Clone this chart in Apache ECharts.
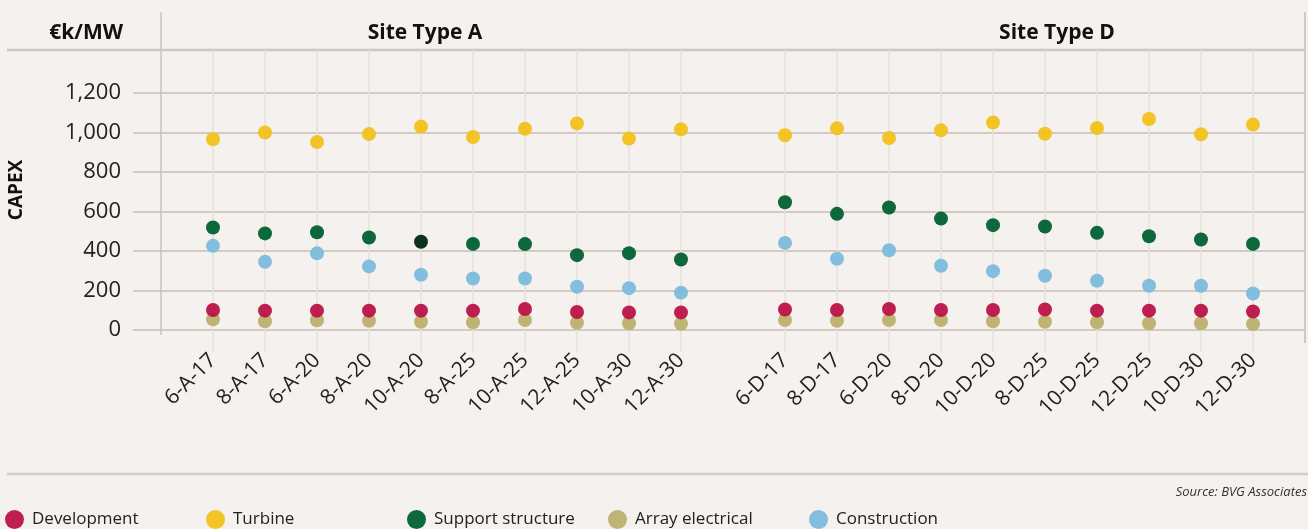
<!DOCTYPE html>
<html>
<head>
<meta charset="utf-8">
<script src="https://cdn.jsdelivr.net/npm/echarts@6/dist/echarts.min.js"></script>
<style>
  html, body { margin: 0; padding: 0; background: #f4f1ee; }
  #chart { width: 1308px; height: 529px; }
</style>
</head>
<body>
<div id="chart"></div>
<script>
// categories: site type A, an empty gap, site type D
const catsA = ['6-A-17', '8-A-17', '6-A-20', '8-A-20', '10-A-20', '8-A-25', '10-A-25', '12-A-25', '10-A-30', '12-A-30']
const catsD = ['6-D-17', '8-D-17', '6-D-20', '8-D-20', '10-D-20', '8-D-25', '10-D-25', '12-D-25', '10-D-30', '12-D-30']

const developmentA = [101, 98, 98, 98, 98, 98, 106, 91, 89, 89]
const developmentD = [104, 101, 106, 101, 101, 104, 98, 98, 98, 94]
const turbineA = [966, 1000, 952, 992, 1030, 977, 1019, 1046, 969, 1016]
const turbineD = [986, 1021, 972, 1011, 1051, 994, 1023, 1068, 991, 1040]
const supportA = [519, 489, 495, 468, 447, 436, 435, 379, 389, 357]
const supportD = [647, 588, 620, 564, 531, 524, 492, 475, 458, 436]
const arrayA = [54, 44, 49, 47, 42, 39, 51, 37, 34, 32]
const arrayD = [51, 47, 51, 51, 44, 42, 39, 34, 34, 30]
const constructionA = [426, 345, 388, 322, 280, 261, 261, 219, 212, 189]
const constructionD = [441, 361, 404, 325, 298, 275, 249, 224, 224, 185]

const yTicks = [0, 200, 400, 600, 800, 1000, 1200]

const categories = catsA.concat([''], catsD)
function join (a, d) { return a.concat(['-'], d) }

const colors = {
  Development: '#bc1347',
  Turbine: '#f2c11a',
  'Support structure': '#006030',
  'Array electrical': '#bdb06e',
  Construction: '#7dbadc'
}

// plot area in pixels (y: 0 at 330, 1200 at 93)
const y0 = 330, y1200 = 93, lineTop = 50, lineBottom = 352
const pxPerUnit = (y0 - y1200) / 1200
const yMin2 = -(lineBottom - y0) / pxPerUnit
const yMax2 = 1200 + (y1200 - lineTop) / pxPerUnit

const font = '"Open Sans", "Noto Sans", sans-serif'

function scatter (name, data) {
  return {
    name: name,
    type: 'scatter',
    xAxisIndex: 1,
    yAxisIndex: 1,
    symbol: 'circle',
    symbolSize: 14,
    data: data,
    itemStyle: { color: colors[name], opacity: 0.95 },
    emphasis: { disabled: true }
  }
}

const supportData = join(supportA, supportD).map((v, i) =>
  i === 4 ? { value: v, itemStyle: { color: '#00290f' } } : v)

const legendNames = ['Development', 'Turbine', 'Support structure', 'Array electrical', 'Construction']
const legendLeft = [5, 206, 407, 608, 809]

const chart = echarts.init(document.getElementById('chart'))
chart.setOption({
  animation: false,
  backgroundColor: '#f4f1ee',
  textStyle: { fontFamily: font },
  grid: [
    { left: 133, right: 4, top: y1200, bottom: 529 - y0 },
    { left: 213, right: 55, top: lineTop, bottom: 529 - lineBottom }
  ],
  legend: legendNames.map((n, i) => ({
    data: [n],
    left: legendLeft[i],
    top: 510,
    padding: 0,
    itemWidth: 19,
    itemHeight: 19,
    icon: 'circle',
    selectedMode: false,
    textStyle: { fontSize: 17, color: '#222', fontFamily: font, padding: [3, 0, 0, 3] }
  })),
  xAxis: [
    { type: 'value', gridIndex: 0, show: false },
    {
      type: 'category',
      gridIndex: 1,
      data: categories,
      boundaryGap: false,
      axisLine: { show: false },
      axisTick: { show: false },
      axisLabel: {
        interval: 0,
        rotate: 45,
        margin: 5,
        fontSize: 21,
        color: '#222'
      },
      splitLine: {
        show: true,
        interval: (i, v) => v !== '',
        lineStyle: { color: '#e6e0dc', width: 1.5 }
      }
    }
  ],
  yAxis: [
    {
      type: 'value',
      gridIndex: 0,
      min: yTicks[0],
      max: yTicks[yTicks.length - 1],
      interval: 200,
      axisLine: { show: false },
      axisTick: { show: false },
      axisLabel: {
        margin: 12,
        fontSize: 22,
        color: '#222',
        formatter: v => v.toLocaleString('en-US')
      },
      splitLine: { lineStyle: { color: '#c9bdb5', width: 1.5 } }
    },
    { type: 'value', gridIndex: 1, min: yMin2, max: yMax2, show: false }
  ],
  series: [
    scatter('Array electrical', join(arrayA, arrayD)),
    scatter('Construction', join(constructionA, constructionD)),
    scatter('Support structure', supportData),
    scatter('Turbine', join(turbineA, turbineD)),
    scatter('Development', join(developmentA, developmentD))
  ],
  graphic: [
    { type: 'line', shape: { x1: 7, y1: 50, x2: 1305, y2: 50 }, style: { stroke: '#d2c7c0', lineWidth: 2.5 } },
    { type: 'line', shape: { x1: 161, y1: 12, x2: 161, y2: 335 }, style: { stroke: '#cdc2bb', lineWidth: 1.5 } },
    { type: 'line', shape: { x1: 1305, y1: 12, x2: 1305, y2: 343 }, style: { stroke: '#d2c7c0', lineWidth: 2 } },
    { type: 'line', shape: { x1: 7, y1: 474, x2: 1308, y2: 474 }, style: { stroke: '#d6cdc6', lineWidth: 2.5 } },
    { type: 'text', x: 123, y: 33, style: { text: '€k/MW', font: 'bold 21px ' + font, fill: '#111', align: 'right', verticalAlign: 'middle' } },
    { type: 'text', x: 425, y: 33, style: { text: 'Site Type A', font: 'bold 21px ' + font, fill: '#111', align: 'center', verticalAlign: 'middle' } },
    { type: 'text', x: 1057, y: 33, style: { text: 'Site Type D', font: 'bold 21px ' + font, fill: '#111', align: 'center', verticalAlign: 'middle' } },
    { type: 'text', x: 17, y: 190, rotation: Math.PI / 2, style: { text: 'CAPEX', font: 'bold 19px ' + font, fill: '#111', align: 'center', verticalAlign: 'middle' } },
    { type: 'text', x: 1307, y: 492, style: { text: 'Source: BVG Associates', font: 'italic 13px ' + font, fill: '#333', align: 'right', verticalAlign: 'middle' } }
  ]
})
</script>
</body>
</html>
